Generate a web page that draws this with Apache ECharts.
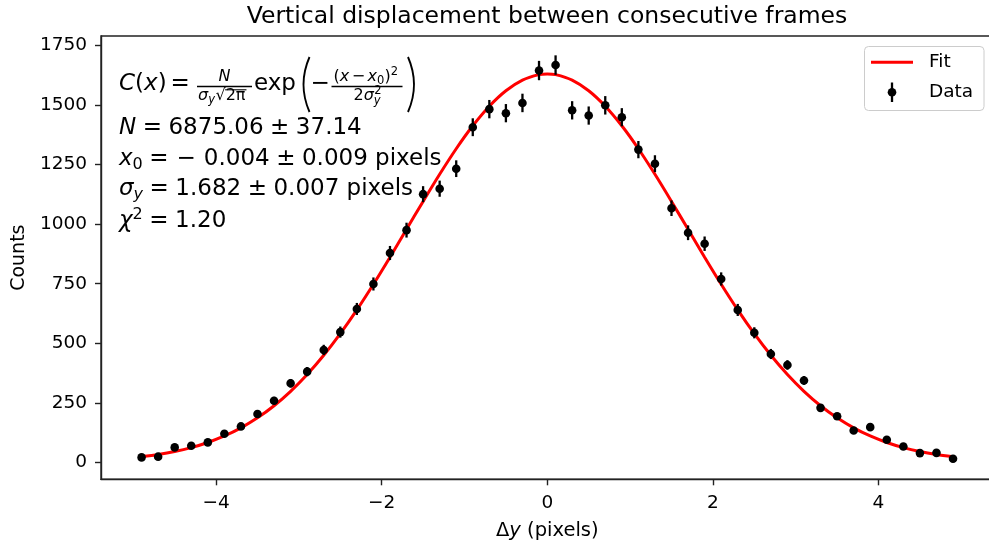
<!DOCTYPE html>
<html><head><meta charset="utf-8">
<script src="https://cdn.jsdelivr.net/npm/echarts@6/dist/echarts.min.js"></script>
<style>html,body{margin:0;padding:0;background:#fff}#c{width:989px;height:548px}</style>
</head><body><div id="c"></div>
<script>
// ---- data ----
const xValues = [-4.9,-4.7,-4.5,-4.3,-4.1,-3.9,-3.7,-3.5,-3.3,-3.1,-2.9,-2.7,-2.5,-2.3,-2.1,-1.9,-1.7,-1.5,-1.3,-1.1,-0.9,-0.7,-0.5,-0.3,-0.1,0.1,0.3,0.5,0.7,0.9,1.1,1.3,1.5,1.7,1.9,2.1,2.3,2.5,2.7,2.9,3.1,3.3,3.5,3.7,3.9,4.1,4.3,4.5,4.7,4.9];
const counts = [21,24,63,70,84,120,151,203,259,332,381,472,547,644,749,879,975,1126,1149,1233,1407,1483,1466,1509,1645,1668,1478,1456,1499,1449,1313,1254,1067,964,918,770,640,544,455,409,344,229,194,134,148,95,67,39,40,15];
const errors = [4.6,4.9,7.9,8.4,9.2,11,12.3,14.2,16.1,18.2,19.5,21.7,23.4,25.4,27.4,29.6,31.2,33.6,33.9,35.1,37.5,38.5,38.3,38.8,40.6,40.8,38.4,38.2,38.7,38.1,36.2,35.4,32.7,31,30.3,27.7,25.3,23.3,21.3,20.2,18.5,15.1,13.9,11.6,12.2,9.7,8.2,6.2,6.3,3.9];
const fitX = [-4.9,-4.7,-4.5,-4.3,-4.1,-3.9,-3.7,-3.5,-3.3,-3.1,-2.9,-2.7,-2.5,-2.3,-2.1,-1.9,-1.7,-1.5,-1.3,-1.1,-0.9,-0.7,-0.5,-0.3,-0.1,0,0.1,0.3,0.5,0.7,0.9,1.1,1.3,1.5,1.7,1.9,2.1,2.3,2.5,2.7,2.9,3.1,3.3,3.5,3.7,3.9,4.1,4.3,4.5,4.7,4.9];
const fitY = [23.4,32.9,45.5,62.1,83.6,110.9,145.1,187.1,237.9,298.4,368.9,449.6,540.3,640.2,747.9,861.5,978.4,1095.6,1209.5,1316.7,1413.1,1495.3,1560.1,1604.9,1627.7,1630.6,1627.7,1604.9,1560.1,1495.3,1413.1,1316.7,1209.5,1095.6,978.4,861.5,747.9,640.2,540.3,449.6,368.9,298.4,237.9,187.1,145.1,110.9,83.6,62.1,45.5,32.9,23.4];
const xTicks = [-4,-2,0,2,4];
const yTicks = [0,250,500,750,1000,1250,1500,1750];
const titleText = 'Vertical displacement between consecutive frames';
const seriesNames = ['Fit','Data'];

// ---- helpers ----
const FF = '"DejaVu Sans", sans-serif';
const mctx = document.createElement('canvas').getContext('2d');
function tw(t, size, it) { mctx.font = (it ? 'italic ' : '') + size + 'px ' + FF; return mctx.measureText(t).width; }
const G = [];
function txt(t, x, base, size, it) {
  G.push({type:'text', x:x, y:base - 0.346*size, silent:true, z:100,
    style:{text:t, font:(it?'italic ':'') + size + 'px ' + FF, fill:'#000', align:'left', verticalAlign:'middle', textAlign:'left', textVerticalAlign:'middle'}});
}
function seq(x, base, parts, S) {
  for (const p of parts) {
    if (p.gap) x += p.gap;
    const s = p.s || S;
    txt(p.t, x, base + (p.dy || 0), s, p.it);
    x += tw(p.t, s, p.it);
  }
  return x;
}
function hline(x1, x2, y, w, c) {
  G.push({type:'line', silent:true, z:100, shape:{x1:x1,y1:y,x2:x2,y2:y}, style:{stroke:c||'#000', lineWidth:w||1.3}});
}

const S = 23, s2 = 16, s3 = 11.5, GP = 6.5;
// line 1: formula
seq(119, 92, [{t:'C',it:1},{t:'('},{t:'x',it:1},{t:')'},{t:'=',gap:4}], S);
const b1 = 197, b1w = 55, barY = 86.5;
hline(b1, b1 + b1w, barY, 1.3);
txt('N', b1 + b1w/2 - tw('N', s2, 1)/2, 82, s2, 1);
let dx = seq(b1 + 1, 101.5, [{t:'\u03c3', s:s2, it:1},{t:'y', s:s3, it:1, dy:2.5}], S);
txt('\u221a', dx + 0.5, 101.5, s2, 0);
const sq0 = dx + 0.5 + tw('\u221a', s2, 0);
const sq1 = seq(sq0, 101.5, [{t:'2\u03c0', s:s2}], S);
hline(sq0 - 0.5, sq1 + 1, 89.8, 1.1);
seq(b1 + b1w + 2, 92, [{t:'exp'}], S);
const p1 = 303.5;
G.push({type:'bezierCurve', silent:true, z:100, shape:{x1:p1+6, y1:57, x2:p1+6, y2:112, cpx1:p1-6, cpy1:84.5}, style:{stroke:'#000', lineWidth:1.9, fill:null}});
seq(p1 + 7, 92, [{t:'\u2212'}], S);
const b2 = 331.5, b2w = 71;
hline(b2, b2 + b2w, barY, 1.3);
seq(b2 + 2, 82, [{t:'('},{t:'x',it:1},{t:'\u2212',gap:2.5},{t:'x',it:1,gap:2.5},{t:'0',s:s3,dy:2.5},{t:')'},{t:'2',s:s3,dy:-6.5}], s2);
dx = seq(b2 + 22, 101.5, [{t:'2'},{t:'\u03c3',it:1}], s2);
txt('2', dx + 0.5, 101.5 - 7, s3, 0);
txt('y', dx, 101.5 + 3, s3, 1);
const p2 = b2 + b2w + 5.5;
G.push({type:'bezierCurve', silent:true, z:100, shape:{x1:p2, y1:57, x2:p2, y2:112, cpx1:p2+12, cpy1:84.5}, style:{stroke:'#000', lineWidth:1.9, fill:null}});

// line 2..5
seq(119, 136, [{t:'N',it:1},{t:'=',gap:GP},{t:'6875.06',gap:GP},{t:'\u00b1',gap:GP},{t:'37.14',gap:GP}], S);
seq(119, 167, [{t:'x',it:1},{t:'0',s:s2,dy:3.5},{t:'=',gap:GP},{t:'\u2212',gap:GP+1.5},{t:'0.004',gap:GP+1.5},{t:'\u00b1',gap:GP},{t:'0.009',gap:GP},{t:' pixels'}], S);
seq(119, 197, [{t:'\u03c3',it:1},{t:'y',s:s2,it:1,dy:3.5},{t:'=',gap:GP},{t:'1.682',gap:GP},{t:'\u00b1',gap:GP},{t:'0.007',gap:GP},{t:' pixels'}], S);
seq(119, 229, [{t:'\u03c7',it:1},{t:'2',s:s2,dy:-8.5},{t:'=',gap:GP},{t:'1.20',gap:GP}], S);

// legend
G.push({type:'rect', silent:true, z:99, shape:{x:864.5, y:46.5, width:119.5, height:64, r:4}, style:{fill:'rgba(255,255,255,0.8)', stroke:'#cccccc', lineWidth:1}});
hline(871, 913, 62.3, 3, '#ff0000');
G.push({type:'line', silent:true, z:100, shape:{x1:892,y1:82.5,x2:892,y2:102}, style:{stroke:'#000', lineWidth:2.3}});
G.push({type:'circle', silent:true, z:100, shape:{cx:892, cy:92.3, r:4.3}, style:{fill:'#000'}});
txt(seriesNames[0], 929, 62.3 + 0.346*18.5, 18.5, 0);
txt(seriesNames[1], 929, 92.3 + 0.346*18.5, 18.5, 0);

const fmt = v => v < 0 ? '\u2212' + Math.abs(v) : String(v);
const axisCol = '#222';

const chart = echarts.init(document.getElementById('c'), null, {renderer:'canvas'});
chart.setOption({
  animation: false,
  backgroundColor: '#fff',
  title: {text: titleText, left: 547, top: 5, textAlign: 'center', padding: 0,
    textStyle: {fontSize: 23.5, fontWeight: 'normal', color: '#000', fontFamily: FF}},
  grid: {left: 101, right: -4.6, top: 36, bottom: 68.7, show: true, borderColor: axisCol, borderWidth: 1.4,
    backgroundColor: 'transparent', containLabel: false, outerBoundsMode: 'none'},
  xAxis: {type: 'value', min: -5.39, max: 5.39,
    axisLine: {show: true, onZero: false, lineStyle: {color: axisCol, width: 1.4}},
    axisTick: {show: true, customValues: xTicks, length: 6, lineStyle: {color: axisCol, width: 1.4}},
    axisLabel: {customValues: xTicks, formatter: fmt, fontSize: 18.5, color: '#000', margin: 14, fontFamily: FF},
    splitLine: {show: false},
    name: '{d|\u0394}{i|y}{d| (pixels)}', nameLocation: 'middle', nameGap: 42,
    nameTextStyle: {fontSize: 19.5, color: '#000', fontFamily: FF,
      rich: {d: {fontSize: 19.5, fontFamily: FF, color: '#000'}, i: {fontSize: 19.5, fontFamily: FF, fontStyle: 'italic', color: '#000'}}}},
  yAxis: {type: 'value', min: -71, max: 1790,
    axisLine: {show: true, onZero: false, lineStyle: {color: axisCol, width: 1.4}},
    axisTick: {show: true, customValues: yTicks, length: 6, lineStyle: {color: axisCol, width: 1.4}},
    axisLabel: {customValues: yTicks, formatter: fmt, fontSize: 18.5, color: '#000', margin: 14, fontFamily: FF},
    splitLine: {show: false},
    name: 'Counts', nameLocation: 'middle', nameGap: 72,
    nameTextStyle: {fontSize: 19, color: '#000', fontFamily: FF}},
  series: [
    {name: seriesNames[0], type: 'line', data: fitX.map((v, i) => [v, fitY[i]]), smooth: 0.3, showSymbol: false, symbol: 'none',
      lineStyle: {color: '#ff0000', width: 3}, z: 3},
    {name: seriesNames[1], type: 'custom', z: 5, data: xValues.map((v, i) => [v, counts[i], errors[i]]),
      renderItem: function (params, api) {
        const xv = api.value(0), yv = api.value(1), e = api.value(2);
        const t = api.coord([xv, yv + e]), b = api.coord([xv, yv - e]), c = api.coord([xv, yv]);
        return {type: 'group', children: [
          {type: 'line', shape: {x1: t[0], y1: t[1], x2: b[0], y2: b[1]}, style: {stroke: '#000', lineWidth: 2.3}},
          {type: 'circle', shape: {cx: c[0], cy: c[1], r: 4.3}, style: {fill: '#000'}}
        ]};
      }}
  ],
  graphic: {elements: G}
});
</script>
</body></html>
